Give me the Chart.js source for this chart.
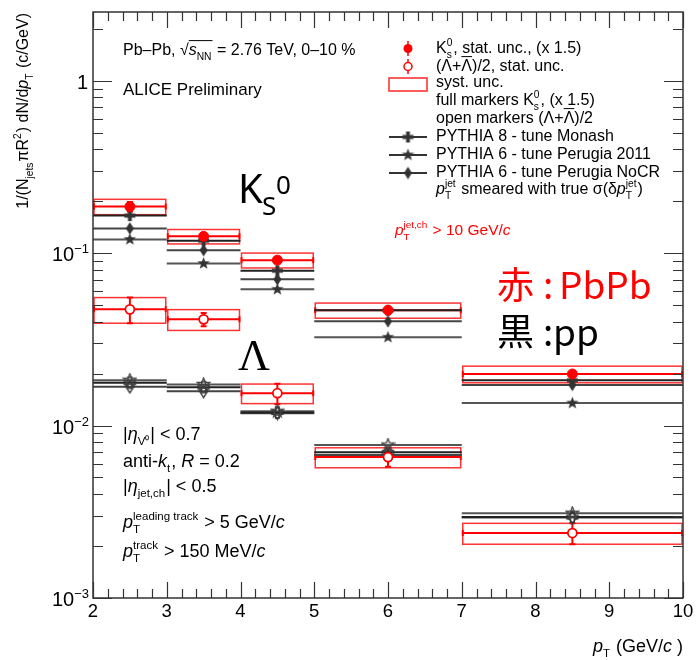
<!DOCTYPE html>
<html>
<head>
<meta charset="utf-8">
<script src="https://cdn.jsdelivr.net/npm/chart.js@4.4.1/dist/chart.umd.min.js"></script>
<style>
  html, body { margin: 0; padding: 0; background: #fff; }
  #wrap { width: 700px; height: 660px; }
</style>
</head>
<body>
<div id="wrap"><canvas id="chart" width="700" height="660"></canvas></div>
<script>
// bins in pT (GeV/c)
const binLo = [2, 3, 4, 5, 7];
const binHi = [3, 4, 5, 7, 10];
const binMid = [2.5, 3.5, 4.5, 6, 8.5];

// Pb-Pb data, K0s scaled x1.5
const k0Pb = [0.186, 0.125, 0.091, 0.0466, 0.0199];
const k0PbStat = [0.012, 0.005, 0.003, 0.0015, 0.0008];
const k0PbSys = [0.019, 0.012, 0.009, 0.0047, 0.0022];

// Pb-Pb data, (Lambda + anti-Lambda)/2
const lamPb = [0.0472, 0.0413, 0.0154, 0.00656, 0.00238];
const lamPbStat = [0.008, 0.0037, 0.0021, 0.0008, 0.00033];
const lamPbSys = [0.008, 0.0057, 0.002, 0.00087, 0.00033];

// PYTHIA pp references
const monashK0 = [0.165, 0.118, 0.079, 0.0466, 0.0183];
const perugiaK0 = [0.120, 0.087, 0.0616, 0.0325, 0.0135];
const nocrK0 = [0.139, 0.104, 0.0704, 0.0402, 0.0172];
const monashLam = [0.0177, 0.0167, 0.0119, 0.0070, 0.00295];
const perugiaLam = [0.0183, 0.0173, 0.0121, 0.0077, 0.0031];
const nocrLam = [0.0168, 0.0158, 0.0118, 0.00674, 0.00293];

// axes
const xTicks = [2, 3, 4, 5, 6, 7, 8, 9, 10];
const yDecades = [0.001, 0.01, 0.1, 1];
const yLabels = ['-3', '-2', '-1', ''];

const RED = '#ff0000';
const FAM = '"Liberation Sans", Arial, Helvetica, sans-serif';

function markerImg(shape, filled, color) {
  const c = document.createElement('canvas');
  const S = 15;
  c.width = S; c.height = S;
  const g = c.getContext('2d');
  g.translate(S / 2, S / 2);
  g.beginPath();
  if (shape === 'star') {
    for (let k = 0; k < 10; k++) {
      const r = k % 2 ? 2.7 : 6.6;
      const a = -Math.PI / 2 + k * Math.PI / 5;
      g.lineTo(r * Math.cos(a), r * Math.sin(a));
    }
  } else if (shape === 'cross') {
    const a = 5.5, b = 1.9;
    g.moveTo(-b, -a); g.lineTo(b, -a); g.lineTo(b, -b); g.lineTo(a, -b);
    g.lineTo(a, b); g.lineTo(b, b); g.lineTo(b, a); g.lineTo(-b, a);
    g.lineTo(-b, b); g.lineTo(-a, b); g.lineTo(-a, -b); g.lineTo(-b, -b);
  } else {
    g.moveTo(0, -6.2); g.lineTo(4, 0); g.lineTo(0, 6.2); g.lineTo(-4, 0);
  }
  g.closePath();
  if (filled) { g.fillStyle = color; g.fill(); }
  else { g.strokeStyle = color; g.lineWidth = 1.3; g.stroke(); }
  return c;
}

const mk = {
  crossF: markerImg('cross', true, '#333'),
  starF: markerImg('star', true, '#333'),
  diamF: markerImg('diamond', true, '#333'),
  crossO: markerImg('cross', false, '#333'),
  starO: markerImg('star', false, '#444'),
  diamO: markerImg('diamond', false, '#333')
};

function stepData(vals) {
  const d = [];
  vals.forEach((v, i) => {
    d.push({ x: binLo[i], y: v }, { x: binHi[i], y: v }, { x: binHi[i], y: null });
  });
  return d;
}
function pts(vals) {
  return vals.map((v, i) => ({ x: binMid[i], y: v }));
}

function lineSet(vals, color) {
  return { data: stepData(vals), showLine: true, spanGaps: false, borderColor: color,
    borderWidth: 2, pointRadius: 0, order: 10 };
}
function markSet(vals, img) {
  return { data: pts(vals), showLine: false, pointStyle: img, pointRadius: 6, order: 5 };
}

const datasets = [
  lineSet(monashK0, '#222'), lineSet(nocrK0, '#444'), lineSet(perugiaK0, '#555'),
  lineSet(monashLam, '#222'), lineSet(nocrLam, '#444'), lineSet(perugiaLam, '#555'),
  markSet(perugiaK0, mk.starF), markSet(nocrK0, mk.diamF), markSet(monashK0, mk.crossF),
  markSet(perugiaLam, mk.starO), markSet(nocrLam, mk.diamO), markSet(monashLam, mk.crossO),
  { data: pts(k0Pb), showLine: false, pointStyle: 'circle', pointRadius: 5,
    backgroundColor: RED, borderColor: RED, borderWidth: 1, order: 1 },
  { data: pts(lamPb), showLine: false, pointStyle: 'circle', pointRadius: 4.5,
    backgroundColor: '#fff', borderColor: RED, borderWidth: 1.8, order: 1 }
];

// text with sub/superscripts
function rich(ctx, x, y, parts, size, color, align) {
  const sm = size * 0.64;
  const f = (s, it) => (it ? 'italic ' : '') + s + 'px ' + FAM;
  const items = parts.map(p => typeof p === 'string' ? { t: p } : Object.assign({}, p));
  let w = 0;
  for (const it of items) {
    if (it.ov) { it.w = 0; continue; }
    if (it.t !== undefined) { ctx.font = f(size, it.i); it.w = ctx.measureText(it.t).width; }
    else {
      ctx.font = f(sm, false);
      const a = it.sup ? ctx.measureText(it.sup).width : 0;
      const b = it.sub ? ctx.measureText(it.sub).width : 0;
      it.w = Math.max(a, b) + 1;
    }
    w += it.w;
  }
  let cx = align === 'right' ? x - w : align === 'center' ? x - w / 2 : x;
  ctx.fillStyle = color; ctx.strokeStyle = color;
  ctx.textAlign = 'left'; ctx.textBaseline = 'alphabetic';
  let ovx = 0;
  for (const it of items) {
    if (it.ov === 'start') { ovx = cx; continue; }
    if (it.ov === 'end') {
      ctx.lineWidth = 1;
      ctx.beginPath(); ctx.moveTo(ovx, y - size * 0.9); ctx.lineTo(cx, y - size * 0.9); ctx.stroke();
      continue;
    }
    if (it.t !== undefined) { ctx.font = f(size, it.i); ctx.fillText(it.t, cx, y); }
    else {
      ctx.font = f(sm, false);
      if (it.sup) ctx.fillText(it.sup, cx, y - size * 0.42);
      if (it.sub) ctx.fillText(it.sub, cx, y + size * 0.3);
    }
    cx += it.w;
  }
  return w;
}

const rootStyle = {
  id: 'rootStyle',
  beforeDatasetsDraw(chart) {
    const ctx = chart.ctx, xs = chart.scales.x, ys = chart.scales.y;
    ctx.save();
    const series = [[k0Pb, k0PbStat, k0PbSys], [lamPb, lamPbStat, lamPbSys]];
    for (const [vals, stat, sys] of series) {
      vals.forEach((v, i) => {
        const x0 = xs.getPixelForValue(binLo[i]), x1 = xs.getPixelForValue(binHi[i]);
        const xm = xs.getPixelForValue(binMid[i]);
        const yv = ys.getPixelForValue(v);
        // systematic box
        ctx.strokeStyle = 'rgba(255,0,0,0.8)';
        ctx.lineWidth = 1.5;
        const yt = ys.getPixelForValue(v + sys[i]), yb = ys.getPixelForValue(v - sys[i]);
        ctx.strokeRect(x0 + 1, yt, x1 - x0 - 2, yb - yt);
        // stat bars
        ctx.strokeStyle = RED;
        ctx.lineWidth = 2;
        ctx.beginPath();
        ctx.moveTo(x0 + 1, yv); ctx.lineTo(x1 - 1, yv);
        ctx.moveTo(x0 + 1, yv - 3); ctx.lineTo(x0 + 1, yv + 3);
        ctx.moveTo(x1 - 1, yv - 3); ctx.lineTo(x1 - 1, yv + 3);
        const ya = ys.getPixelForValue(v + stat[i]), yc = ys.getPixelForValue(v - stat[i]);
        ctx.moveTo(xm, ya); ctx.lineTo(xm, yc);
        ctx.moveTo(xm - 3, ya); ctx.lineTo(xm + 3, ya);
        ctx.moveTo(xm - 3, yc); ctx.lineTo(xm + 3, yc);
        ctx.stroke();
      });
    }
    ctx.restore();
  },
  afterDraw(chart) {
    const ctx = chart.ctx, xs = chart.scales.x, ys = chart.scales.y, a = chart.chartArea;
    ctx.save();
    // frame
    ctx.strokeStyle = '#333';
    ctx.lineWidth = 1.5;
    ctx.strokeRect(a.left, a.top, a.right - a.left, a.bottom - a.top);
    // x ticks
    ctx.lineWidth = 1.2;
    ctx.beginPath();
    for (let k = 0; k <= 40; k++) {
      const v = 2 + k * 0.2;
      const px = Math.round(xs.getPixelForValue(v)) + 0.5;
      const len = k % 5 === 0 ? 16 : 9;
      ctx.moveTo(px, a.bottom); ctx.lineTo(px, a.bottom - len);
      ctx.moveTo(px, a.top); ctx.lineTo(px, a.top + len);
    }
    // y ticks
    for (const d of yDecades) {
      for (let m = 1; m <= 9; m++) {
        const v = d * m;
        if (v > ys.max) continue;
        const py = Math.round(ys.getPixelForValue(v)) + 0.5;
        const len = m === 1 ? 19 : 10;
        ctx.moveTo(a.left, py); ctx.lineTo(a.left + len, py);
        ctx.moveTo(a.right, py); ctx.lineTo(a.right - len, py);
      }
    }
    ctx.stroke();

    // x tick labels
    ctx.fillStyle = '#000';
    ctx.font = '18.5px ' + FAM;
    ctx.textAlign = 'center';
    ctx.textBaseline = 'alphabetic';
    xTicks.forEach(v => ctx.fillText(String(v), xs.getPixelForValue(v), 617));
    // y tick labels
    yDecades.forEach((d, i) => {
      const py = ys.getPixelForValue(d);
      ctx.textAlign = 'right';
      if (yLabels[i] === '') {
        ctx.font = '20px ' + FAM;
        ctx.fillText('1', 88, py + 8);
      } else {
        ctx.font = '13px ' + FAM;
        const sup = '\u2212' + yLabels[i].slice(1);
        const sw = ctx.measureText(sup).width;
        ctx.fillText(sup, 89, py);
        ctx.font = '20px ' + FAM;
        ctx.fillText('10', 89 - sw, py + 8);
      }
    });

    // axis titles
    rich(ctx, 683, 652, [{ t: 'p', i: true }, { sub: 'T' }, ' (GeV/', { t: 'c', i: true }, ' )'], 18, '#000', 'right');
    ctx.save();
    ctx.translate(28, 13);
    ctx.rotate(-Math.PI / 2);
    rich(ctx, 0, 0, ['1/(N', { sub: 'jets' }, '\u03c0R', { sup: '2' }, ') dN/d', { t: 'p', i: true }, { sub: 'T' }, ' (', { t: 'c', i: false }, '/GeV)'], 16, '#000', 'right');
    ctx.restore();

    // header
    rich(ctx, 123, 55, ['Pb\u2013Pb, \u221a', { ov: 'start' }, { t: 's', i: true }, { sub: 'NN' }, { ov: 'end' }, ' = 2.76 TeV, 0\u201310 %'], 16, '#000', 'left');
    rich(ctx, 123, 95, ['ALICE Preliminary'], 17, '#000', 'left');

    // legend
    const lx = 436, mx = 408;
    ctx.fillStyle = RED; ctx.strokeStyle = RED; ctx.lineWidth = 1.5;
    ctx.beginPath(); ctx.moveTo(mx, 41); ctx.lineTo(mx, 56); ctx.stroke();
    ctx.beginPath(); ctx.arc(mx, 48.5, 4.5, 0, Math.PI * 2); ctx.fill();
    ctx.beginPath(); ctx.moveTo(mx, 59); ctx.lineTo(mx, 74); ctx.stroke();
    ctx.fillStyle = '#fff';
    ctx.beginPath(); ctx.arc(mx, 66.5, 4, 0, Math.PI * 2); ctx.fill(); ctx.stroke();
    ctx.strokeStyle = 'rgba(255,0,0,0.85)';
    ctx.strokeRect(389, 78, 38, 13);
    const legRows = [[137, mk.crossF], [155, mk.starF], [173, mk.diamF]];
    legRows.forEach(([y, img]) => {
      ctx.strokeStyle = '#333'; ctx.lineWidth = 2;
      ctx.beginPath(); ctx.moveTo(389, y); ctx.lineTo(427, y); ctx.stroke();
      ctx.drawImage(img, mx - img.width / 2, y - img.height / 2);
    });
    rich(ctx, lx, 53, ['K', { sup: '0', sub: 's' }, ', stat. unc., (x 1.5)'], 16, '#000', 'left');
    rich(ctx, lx, 71, ['(\u039b+', { ov: 'start' }, '\u039b', { ov: 'end' }, ')/2, stat. unc.'], 16, '#000', 'left');
    rich(ctx, lx, 87, ['syst. unc.'], 16, '#000', 'left');
    rich(ctx, lx, 105, ['full markers K', { sup: '0', sub: 's' }, ', (x 1.5)'], 16, '#000', 'left');
    rich(ctx, lx, 123, ['open markers (\u039b+', { ov: 'start' }, '\u039b', { ov: 'end' }, ')/2'], 16, '#000', 'left');
    rich(ctx, lx, 141, ['PYTHIA 8 - tune Monash'], 16, '#000', 'left');
    rich(ctx, lx, 159, ['PYTHIA 6 - tune Perugia 2011'], 16, '#000', 'left');
    rich(ctx, lx, 177, ['PYTHIA 6 - tune Perugia NoCR'], 16, '#000', 'left');
    rich(ctx, lx, 194, [{ t: 'p', i: true }, { sup: 'jet', sub: 'T' }, ' smeared with true \u03c3(\u03b4', { t: 'p', i: true }, { sup: 'jet', sub: 'T' }, ')'], 16, '#000', 'left');

    // cuts
    rich(ctx, 395, 235, [{ t: 'p', i: true }, { sup: 'jet,ch', sub: 'T' }, ' > 10 GeV/', { t: 'c', i: true }], 15.5, RED, 'left');
    rich(ctx, 123, 440, ['|', { t: '\u03b7', i: true }, { sub: 'V\u2070' }, '| < 0.7'], 18, '#000', 'left');
    rich(ctx, 123, 467, ['anti-', { t: 'k', i: true }, { sub: 't' }, ', ', { t: 'R', i: true }, ' = 0.2'], 18, '#000', 'left');
    rich(ctx, 123, 492, ['|', { t: '\u03b7', i: true }, { sub: 'jet,ch' }, '| < 0.5'], 18, '#000', 'left');
    rich(ctx, 123, 528, [{ t: 'p', i: true }, { sup: 'leading track', sub: 'T' }, ' > 5 GeV/', { t: 'c', i: true }], 18, '#000', 'left');
    rich(ctx, 123, 557, [{ t: 'p', i: true }, { sup: 'track', sub: 'T' }, ' > 150 MeV/', { t: 'c', i: true }], 18, '#000', 'left');

    // species labels
    ctx.fillStyle = '#000';
    ctx.textAlign = 'left';
    ctx.font = '40px "Noto Sans", sans-serif';
    ctx.fillText('K', 238, 203);
    ctx.font = '26px "Noto Sans", sans-serif';
    ctx.fillText('S', 262, 215);
    ctx.fillText('0', 276, 194);
    ctx.font = '44px "Liberation Serif", serif';
    ctx.fillText('\u039b', 238, 370);

    // colour key
    ctx.font = '37px "Noto Sans CJK JP", sans-serif';
    ctx.fillStyle = RED;
    ctx.fillText('\u8d64', 497, 299);
    ctx.fillText(':', 543, 299);
    ctx.fillText('PbPb', 559, 299);
    ctx.fillStyle = '#000';
    ctx.fillText('\u9ed2', 497, 346);
    ctx.fillText(':', 543, 346);
    ctx.fillText('pp', 553, 346);
    ctx.restore();
  }
};

new Chart(document.getElementById('chart'), {
  type: 'scatter',
  data: { datasets },
  options: {
    responsive: false,
    animation: false,
    devicePixelRatio: 1,
    layout: { padding: { left: 93, right: 17, top: 12, bottom: 62 } },
    scales: {
      x: { type: 'linear', min: 2, max: 10, display: false },
      y: { type: 'logarithmic', min: 0.001, max: 2.5, display: false }
    },
    plugins: { legend: { display: false }, tooltip: { enabled: false } }
  },
  plugins: [rootStyle]
});
</script>
</body>
</html>
